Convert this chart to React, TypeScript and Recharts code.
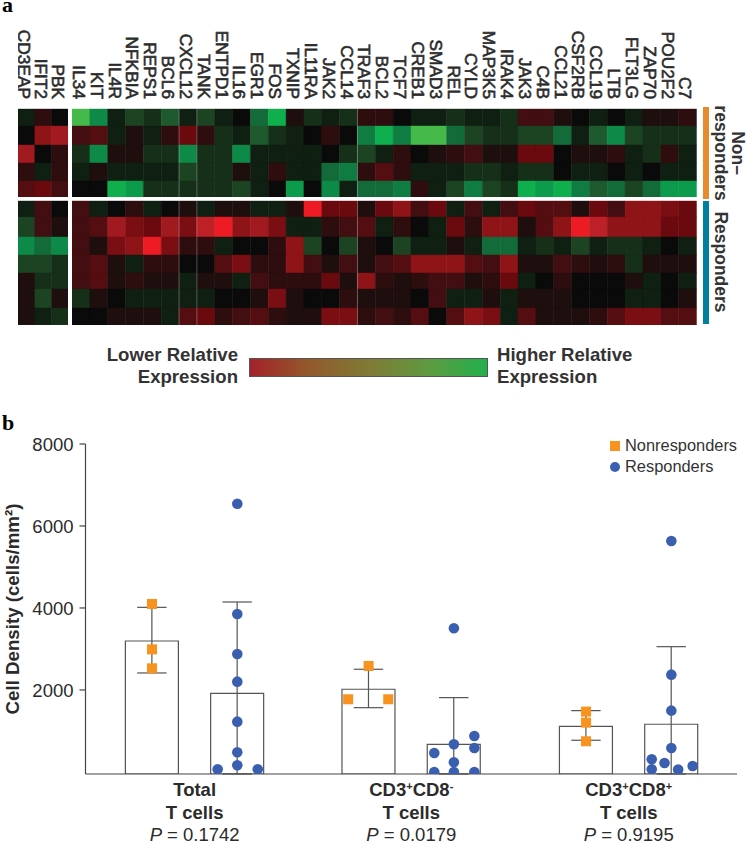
import React from 'react';
import {
  Bar,
  BarChart,
  Cell,
  ComposedChart,
  ErrorBar,
  Label,
  ReferenceLine,
  Scatter,
  XAxis,
  YAxis,
} from 'recharts';

const FONT = '"Liberation Sans", Arial, sans-serif';
const TEXT = '#2b2b2b';
const ORANGE = '#f7931e';
const BLUE = '#3b5fb0';

// heatmap columns
const leftGenes = ['CD3EAP', 'IFIT2', 'PBK'];
const mainGenes = [
  'IL34', 'KIT', 'IL4R', 'NFKBIA', 'REPS1', 'BCL6', 'CXCL12', 'TANK', 'ENTPD1', 'IL16', 'EGR1', 'FOS',
  'TXNIP', 'IL11RA', 'JAK2', 'CCL14', 'TRAF3', 'BCL2', 'TCF7', 'CREB1', 'SMAD3', 'REL', 'CYLD', 'MAP3K5',
  'IRAK4', 'JAK3', 'C4B', 'CCL21', 'CSF2RB', 'CCL19', 'LTB', 'FLT3LG', 'ZAP70', 'POU2F2', 'C7',
];

// expression, -10 (red) .. 0 (black) .. 10 (green), one row per patient
const leftRows = [
  [1, -2, 0],
  [0, -7, -8],
  [-8, 0, -2],
  [-2, 1, -2],
  [-4, -5, -3],
  [1, -3, 0],
  [3, -3, -1],
  [7, 5, 7],
  [3, 3, 2],
  [-1, 2, 2],
  [-1, 3, -1],
  [-1, 1, 2],
];
const mainRows = [
  [10, 7, 1, 3, 2, 4, 1, 3, 1, 0, 5, 9, -1, 2, 1, 2, -2, -2, 0, 1, 1, 2, 1, 1, 2, -3, -3, -1, 0, 1, 0, 1, -1, -1, -2],
  [-3, -4, 1, -1, 1, -2, -5, -2, 2, 1, 4, 2, 1, 0, -2, 0, 6, 9, 6, 10, 10, 5, 3, 2, 2, 3, 3, 5, 1, 4, 7, 3, 2, 2, 2],
  [2, 7, -1, -1, 2, 2, 7, 2, 2, 7, 1, 1, 1, 1, 0, 2, 3, 1, -2, 0, -1, -2, -3, -1, -1, -5, -5, 0, -1, -1, -2, 1, 2, -2, 1],
  [1, -1, 1, 1, 1, 1, 3, 2, 2, -1, 1, -2, 1, 1, 5, 6, -2, -4, -2, 1, 1, 1, 2, 2, 1, 2, 2, 0, 1, 1, 0, 1, 0, 1, 1],
  [0, 0, 9, 8, 2, 2, 2, 2, 2, 3, 1, 0, 8, 0, 7, 1, 5, 5, 6, -2, 1, 3, 6, 3, 2, 9, 8, 9, 6, 4, 5, 3, 5, 8, 8],
  [-3, 1, 0, -2, 1, 0, -1, 1, -1, -1, 1, 1, -1, -10, -5, -5, -1, -5, -7, -3, -5, 1, -3, 1, -3, -5, -4, -4, -1, -5, -3, -7, -7, -6, -5],
  [-3, -4, -8, -6, -5, -8, -6, -9, -10, -7, -8, -6, 1, 1, -2, -3, -4, 1, -2, 0, 1, -5, -2, -7, -7, -1, -4, -7, -10, -9, -7, -7, -7, -5, -5],
  [-3, -1, -6, -7, -10, -6, -2, -2, 1, 0, 0, -2, -7, 3, 0, 3, -1, 0, 3, 1, 1, -1, 1, 5, 5, 1, 2, 1, 3, 1, 2, 2, 1, 0, 1],
  [-3, -4, -1, 1, -2, -2, 0, 0, -4, -6, -2, -2, -7, -3, -1, -3, -1, -3, -4, -7, -7, -7, -4, -3, -7, -1, -1, -3, -2, -1, -2, 2, -1, -1, -1],
  [-3, -4, -1, -2, -1, -1, 1, -1, -1, 1, -3, -2, -2, -2, -5, -1, -7, -2, -1, -2, -3, -3, -1, -2, -5, 1, 0, -2, 0, 0, 0, -1, 1, 0, 1],
  [2, -1, 0, 1, 1, 1, 1, 1, 0, 0, -1, -6, -1, 0, 0, -2, -1, -1, -1, 0, -3, 1, 1, -1, 1, -1, -1, -1, 0, 0, 0, 1, 1, 0, -1],
  [0, 0, -1, -1, -1, 1, -4, -5, -2, -3, -4, -2, -1, -1, -6, -6, -2, -3, -2, -4, 0, -4, -7, -6, 1, -4, -1, -1, -1, -2, -4, -6, -6, -4, -4],
];

const greens = ['#0a0a0a', '#0f1f12', '#162f18', '#1c4422', '#1f5a2e', '#136b3a', '#0f7d42', '#0d8a48', '#0c9a4c', '#0faf4e', '#45ba4a'];
const reds = ['#0a0a0a', '#1e0e0e', '#2e0d0f', '#430e11', '#540e12', '#6a0a0e', '#7a0e12', '#8e1418', '#a01a20', '#bd2026', '#ed1c24'];
const heatColor = (v: number) => (v >= 0 ? greens[v] : reds[-v]);

// band heights in the y units of the heatmap (the rows in the figure are not quite equal)
const rowSpans = [17, 19, 18, 18, 16, 16, 20, 18, 18, 16, 19, 17];
const groupGap = 4;
const NON_RESPONDER_ROWS = 5;

// bar panel
const groupTicks = [1.5, 4.04, 6.59];
const groupTitles = [['Total'], ['CD3', '+', 'CD8', '-'], ['CD3', '+', 'CD8', '+']];
const groupPValues = ['0.1742', '0.0179', '0.9195'];

const barPositions = [1, 2, 3.54, 4.54, 6.09, 7.09];
const barMeans = [3195, 1919, 2017, 675, 1114, 1163];
const errorLows = [2415, -50, 1568, -50, 773, -50];
const errorHighs = [4015, 4146, 2505, 1813, 1496, 3056];

const nonResponderX = [1, 1, 1, 3.54, 3.3, 3.77, 6.09, 6.09, 6.09];
const nonResponderY = [4098, 2990, 2528, 2585, 1773, 1773, 1472, 1202, 748];
const responderX = [
  2, 2, 2, 2, 2, 2, 2, 1.77, 2.24,
  4.54, 4.78, 4.54, 4.78, 4.31, 4.54, 4.31, 4.54, 4.78,
  7.09, 7.09, 7.09, 7.09, 6.86, 7.01, 7.34, 6.86, 7.17,
];
const responderY = [
  6544, 3854, 2878, 2203, 1227, 480, 163, 66, 66,
  3504, 878, 676, 585, 463, 236, 0, 0, 0,
  5634, 2374, 1496, 585, 309, 220, 146, 66, 57,
];

const xDomain = [0.22, 7.86];

const barData = barPositions.map((x, i) => ({
  x,
  mean: [-50, barMeans[i]],
  err: [barMeans[i] - errorLows[i], errorHighs[i] - barMeans[i]],
}));
const nonResponderPoints = nonResponderX.map((x, i) => ({ x, y: nonResponderY[i] }));
const responderPoints = responderX.map((x, i) => ({ x, y: responderY[i] }));

const GeneTick = ({ x, payload }: any) => (
  <text
    transform={`translate(${x - 8},99) rotate(90)`}
    textAnchor="end"
    fontFamily={FONT}
    fontSize={17.3}
    fill={TEXT}
    stroke={TEXT}
    strokeWidth={0.6}
  >
    {payload.value}
  </text>
);

function HeatBlock({ genes, rows, left, width, dividers = [] }: any) {
  const table = genes.map((gene: string) => {
    const entry: any = { gene, gap: groupGap };
    rowSpans.forEach((span, r) => {
      entry['r' + r] = span;
    });
    return entry;
  });
  const total = rowSpans.reduce((a, b) => a + b, 0) + groupGap;
  return (
    <div style={{ position: 'absolute', left, top: 0 }}>
      <BarChart
        width={width}
        height={109 + total}
        data={table}
        barCategoryGap={0}
        margin={{ top: 0, right: 0, bottom: 0, left: 0 }}
        style={{ overflow: 'visible' }}
      >
        <XAxis
          dataKey="gene"
          orientation="top"
          height={109}
          interval={0}
          axisLine={false}
          tickLine={false}
          tick={<GeneTick />}
        />
        <YAxis hide reversed domain={[0, total]} />
        {rowSpans.map((_, r) => (
          <React.Fragment key={r}>
            <Bar dataKey={'r' + r} stackId="s" isAnimationActive={false}>
              {genes.map((g: string, c: number) => (
                <Cell key={g} fill={heatColor(rows[r][c])} stroke={heatColor(rows[r][c])} strokeWidth={0.4} />
              ))}
            </Bar>
            {r === NON_RESPONDER_ROWS - 1 && (
              <Bar dataKey="gap" stackId="s" fill="#fff" isAnimationActive={false} />
            )}
          </React.Fragment>
        ))}
        {dividers.map((g: string) => (
          <ReferenceLine key={g} x={g} position="start" stroke="rgba(255,255,255,0.3)" strokeWidth={1} />
        ))}
      </BarChart>
    </div>
  );
}

const GroupTick = ({ x, index }: any) => {
  const parts = groupTitles[index] || [];
  return (
    <g fontFamily={FONT} fontSize={18.5} fill={TEXT} textAnchor="middle">
      <text x={x} y={376} fontWeight="bold">
        {parts.map((p, i) => (
          <tspan key={i} fontSize={i % 2 ? 11 : 18.5} dy={i === 0 ? 0 : i % 2 ? -6 : 6}>
            {p}
          </tspan>
        ))}
      </text>
      <text x={x} y={399} fontWeight="bold">T cells</text>
      <text x={x} y={421}>
        <tspan fontStyle="italic">P</tspan> = {groupPValues[index]}
      </text>
    </g>
  );
};

const SquareDot = ({ cx, cy }: any) => <rect x={cx - 5} y={cy - 5} width={10} height={10} fill={ORANGE} />;
const RoundDot = ({ cx, cy }: any) => <circle cx={cx} cy={cy} r={5.3} fill={BLUE} />;

const PanelLegend = () => (
  <div
    style={{
      position: 'absolute',
      left: 610,
      top: 435,
      fontFamily: FONT,
      fontSize: 16.4,
      color: '#333',
      lineHeight: '21px',
    }}
  >
    <div style={{ display: 'flex', alignItems: 'center' }}>
      <span style={{ width: 10, height: 10, background: ORANGE, marginRight: 5 }} />
      Nonresponders
    </div>
    <div style={{ display: 'flex', alignItems: 'center' }}>
      <span style={{ width: 10, height: 10, borderRadius: 5, background: BLUE, marginRight: 5 }} />
      Responders
    </div>
  </div>
);

const sideText: React.CSSProperties = {
  position: 'absolute',
  fontFamily: FONT,
  fontSize: 17.5,
  fontWeight: 'bold',
  color: '#333',
  whiteSpace: 'nowrap',
  lineHeight: '18px',
};

const panelLetter: React.CSSProperties = {
  position: 'absolute',
  left: 2,
  fontFamily: '"Liberation Serif", serif',
  fontWeight: 'bold',
  fontSize: 22,
  lineHeight: '22px',
};

export default function App() {
  return (
    <div style={{ position: 'absolute', left: 0, top: 0, width: 747, height: 844, background: '#fff', overflow: 'hidden' }}>
      <div style={{ ...panelLetter, top: -6 }}>a</div>
      <div style={{ ...panelLetter, top: 412 }}>b</div>

      <HeatBlock genes={leftGenes} rows={leftRows} left={18} width={50.4} />
      <HeatBlock genes={mainGenes} rows={mainRows} left={72.3} width={624.4} dividers={['CXCL12', 'TANK', 'TRAF3']} />

      <div style={{ position: 'absolute', left: 703, top: 107, width: 6, height: 92, background: '#e68a2e' }} />
      <div style={{ position: 'absolute', left: 703, top: 201, width: 6, height: 123, background: '#007f9e' }} />
      <div style={{ ...sideText, left: 738, top: 153, textAlign: 'center', transform: 'translate(-50%,-50%) rotate(90deg)' }}>
        Non–
      </div>
      <div style={{ ...sideText, left: 721, top: 153, transform: 'translate(-50%,-50%) rotate(90deg)' }}>
        responders
      </div>
      <div style={{ ...sideText, left: 721, top: 262, transform: 'translate(-50%,-50%) rotate(90deg)' }}>
        Responders
      </div>

      <div style={{ ...sideText, left: 90, width: 148, top: 344, textAlign: 'right', fontSize: 18.6, lineHeight: '22px' }}>
        Lower Relative<br />Expression
      </div>
      <div
        style={{
          position: 'absolute',
          left: 249,
          top: 358,
          width: 237,
          height: 17,
          border: '1px solid #555',
          background: 'linear-gradient(90deg,#a3222a,#935a2c,#7f7a35,#5f9a40,#22b04c)',
        }}
      />
      <div style={{ ...sideText, left: 497, top: 344, fontSize: 18.6, lineHeight: '22px' }}>
        Higher Relative<br />Expression
      </div>

      <div style={{ position: 'absolute', left: 0, top: 420 }}>
        <ComposedChart
          width={737}
          height={424}
          data={barData}
          margin={{ top: 24, right: 0, bottom: 0, left: 0 }}
        >
          <XAxis
            xAxisId="bars"
            type="number"
            dataKey="x"
            domain={xDomain}
            ticks={groupTicks}
            height={70}
            axisLine={{ stroke: '#444', strokeWidth: 1.2 }}
            tickLine={false}
            tick={<GroupTick />}
            interval={0}
            allowDataOverflow
          />
          <XAxis xAxisId="points" type="number" dataKey="x" domain={xDomain} hide allowDataOverflow />
          <YAxis
            type="number"
            width={85.5}
            domain={[-50, 8000]}
            ticks={[2000, 4000, 6000, 8000]}
            axisLine={{ stroke: '#444', strokeWidth: 1.2 }}
            tickLine={{ stroke: '#444', strokeWidth: 1.2 }}
            tickSize={6}
            tickMargin={6}
            tick={{ fontFamily: FONT, fontSize: 18.5, fill: TEXT }}
            allowDataOverflow
          >
            <Label
              content={() => (
                <text
                  transform="translate(19,189) rotate(-90)"
                  textAnchor="middle"
                  fontFamily={FONT}
                  fontSize={18.7}
                  fontWeight="bold"
                  fill={TEXT}
                >
                  Cell Density (cells/mm²)
                </text>
              )}
            />
          </YAxis>
          <Bar
            xAxisId="bars"
            dataKey="mean"
            barSize={53}
            fill="#fff"
            stroke="#555"
            strokeWidth={1.2}
            isAnimationActive={false}
          >
            <ErrorBar dataKey="err" width={14.7} stroke="#555" strokeWidth={1.2} direction="y" isAnimationActive={false} />
          </Bar>
          <Scatter xAxisId="points" data={nonResponderPoints} dataKey="y" shape={<SquareDot />} isAnimationActive={false} />
          <Scatter xAxisId="points" data={responderPoints} dataKey="y" shape={<RoundDot />} isAnimationActive={false} />
        </ComposedChart>
      </div>
      <PanelLegend />
    </div>
  );
}
